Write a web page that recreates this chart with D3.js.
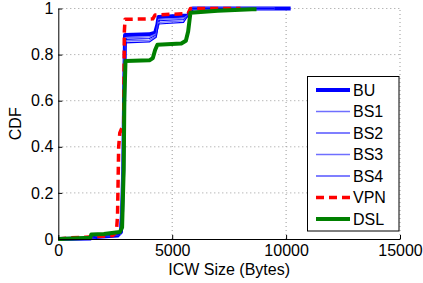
<!DOCTYPE html>
<html><head><meta charset="utf-8">
<script src="https://cdn.jsdelivr.net/npm/d3@7"></script>
<style>body{margin:0;background:#fff}svg{display:block;font-family:"Liberation Sans",Arial,Helvetica,sans-serif}</style>
</head><body><svg id="c" width="423" height="283"></svg>
<script>
const xTicks = [0, 5000, 10000, 15000];
const xTickLabels = ["0", "5000", "10000", "15000"];
const yTicks = [0, 0.2, 0.4, 0.6, 0.8, 1];
const yTickLabels = ["0", "0.2", "0.4", "0.6", "0.8", "1"];
const seriesNames = ["BU", "BS1", "BS2", "BS3", "BS4", "VPN", "DSL"];

const bu = [[0,0],[1400,0.002],[1500,0.008],[2600,0.015],[2750,0.03],[2800,0.12],[2850,0.3],[2900,0.7],[2930,0.885],[4000,0.888],[4250,0.895],[4350,0.93],[4400,0.963],[5700,0.97],[5800,0.99],[5900,1.0],[10200,1.0]];
const bs1 = [[0,0],[1500,0.005],[2700,0.02],[2800,0.2],[2900,0.8],[2930,0.873],[4000,0.877],[4300,0.89],[4400,0.953],[5500,0.958],[5700,0.97],[5850,1.0],[9500,1.0]];
const bs2 = [[0,0],[1500,0.005],[2700,0.02],[2800,0.2],[2900,0.8],[2930,0.866],[4000,0.87],[4300,0.885],[4400,0.947],[5500,0.952],[5700,0.97],[5850,1.0],[9500,1.0]];
const bs3 = [[0,0],[1500,0.005],[2700,0.02],[2800,0.2],[2900,0.8],[2930,0.859],[4000,0.863],[4300,0.88],[4400,0.94],[5500,0.946],[5700,0.97],[5850,1.0],[9500,1.0]];
const bs4 = [[0,0],[1500,0.005],[2700,0.02],[2800,0.2],[2900,0.8],[2930,0.851],[4000,0.855],[4300,0.875],[4400,0.933],[5500,0.94],[5700,0.97],[5850,1.0],[9500,1.0]];
const vpn = [[0,0],[500,0.005],[1200,0.008],[2400,0.015],[2550,0.03],[2600,0.1],[2650,0.4],[2700,0.46],[2870,0.5],[2900,0.9],[2930,0.953],[4150,0.955],[4250,0.972],[5700,0.978],[5800,1.0],[8000,1.0]];
const dsl = [[0,0],[1400,0.005],[1450,0.02],[2000,0.022],[2700,0.03],[2800,0.05],[2870,0.3],[2900,0.6],[2950,0.772],[4000,0.775],[4150,0.785],[4250,0.82],[4350,0.843],[5400,0.848],[5600,0.86],[5700,0.9],[5800,0.982],[7000,0.99],[8500,0.997],[8700,0.997]];

const data = [bu, bs1, bs2, bs3, bs4, vpn, dsl];
const styles = [
  {c:"#0000ff", w:4, d:null},
  {c:"#6f6fff", w:1.3, d:null},
  {c:"#0000ff", w:1.1, d:null},
  {c:"#6f6fff", w:1.3, d:null},
  {c:"#0000ff", w:1.1, d:null},
  {c:"#ff0000", w:3.5, d:"8,5"},
  {c:"#008000", w:4, d:null}
];

const svg = d3.select("#c");
const L = 58.3, R = 400, T = 8.5, B = 239;
const x = d3.scaleLinear().domain([0, 15000]).range([L, R]);
const y = d3.scaleLinear().domain([0, 1]).range([B, T]);

// grid
const g = svg.append("g");
g.selectAll(".gx").data(xTicks.slice(1)).join("line")
  .attr("x1", d => x(d)).attr("x2", d => x(d)).attr("y1", B).attr("y2", T)
  .attr("stroke", "#999").attr("stroke-width", 1).attr("stroke-dasharray", "1,3");
g.selectAll(".gy").data(yTicks.slice(1)).join("line")
  .attr("x1", L).attr("x2", R).attr("y1", d => y(d)).attr("y2", d => y(d))
  .attr("stroke", "#999").attr("stroke-width", 1).attr("stroke-dasharray", "1,3");

// lines
const line = d3.line().x(d => x(d[0])).y(d => y(d[1]));
data.forEach((s, i) => {
  svg.append("path").datum(s).attr("d", line)
    .attr("fill", "none").attr("stroke", styles[i].c).attr("stroke-width", styles[i].w)
    .attr("stroke-dasharray", styles[i].d).attr("stroke-linejoin", "round");
});

// axes
const ax = svg.append("g").attr("transform", `translate(0,${B})`)
  .call(d3.axisBottom(x).tickValues(xTicks).tickFormat((d, i) => xTickLabels[i]).tickSize(-4).tickPadding(6).tickSizeOuter(0));
const ay = svg.append("g").attr("transform", `translate(${L},0)`)
  .call(d3.axisLeft(y).tickValues(yTicks).tickFormat((d, i) => yTickLabels[i]).tickSize(-4).tickPadding(5).tickSizeOuter(0));
[ax, ay].forEach(a => {
  a.selectAll("text").attr("font-size", 16).attr("fill", "#000").attr("font-family", '"Liberation Sans",Arial,sans-serif');
  a.select(".domain").attr("stroke", "#000");
  a.selectAll(".tick line").attr("stroke", "#000");
});

svg.append("text").attr("x", (L + R) / 2).attr("y", 275).attr("text-anchor", "middle")
  .attr("font-size", 16).text("ICW Size (Bytes)");
svg.append("text").attr("transform", `translate(21,${(T + B) / 2}) rotate(-90)`).attr("text-anchor", "middle")
  .attr("font-size", 16).text("CDF");

// legend
const lg = svg.append("g");
lg.append("rect").attr("x", 307.5).attr("y", 76.5).attr("width", 91.5).attr("height", 154.5)
  .attr("fill", "#fff").attr("stroke", "#000").attr("stroke-width", 1);
const ly = d3.scaleLinear().domain([0, seriesNames.length - 1]).range([90, 219]);
seriesNames.forEach((n, i) => {
  lg.append("line").attr("x1", 316).attr("x2", 350).attr("y1", ly(i)).attr("y2", ly(i))
    .attr("stroke", styles[i].c).attr("stroke-width", styles[i].w).attr("stroke-dasharray", styles[i].d);
  lg.append("text").attr("x", 353).attr("y", ly(i)).attr("dy", "0.36em").attr("font-size", 16).text(n);
});
</script></body></html>
